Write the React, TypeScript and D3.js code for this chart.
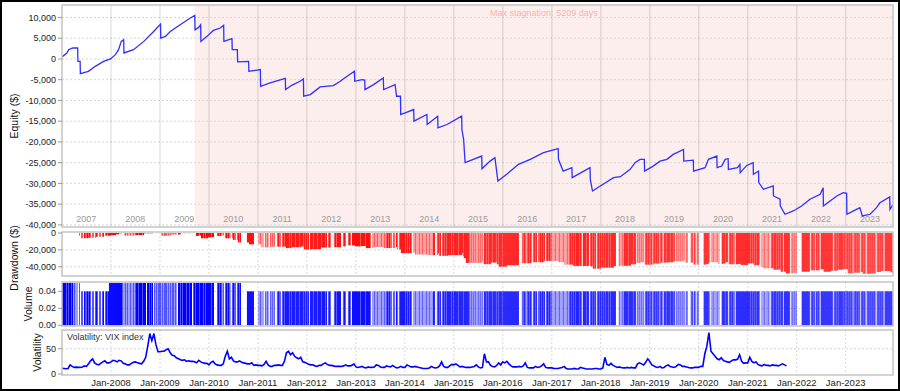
import React from "react";
import * as d3 from "d3";

// equity curve [decimal year, $]
const EQUITY: [number, number][] = [
  [2007.0, 480], [2007.1, 1440], [2007.135, 2240], [2007.22, 2640], [2007.32, 2640],
  [2007.325, -580], [2007.37, -580], [2007.375, -3530], [2007.54, -2980], [2007.68, -1780],
  [2007.85, -580], [2007.99, 0], [2008.09, 1030], [2008.155, 2240], [2008.21, 4230],
  [2008.26, 4640], [2008.265, 1440], [2008.46, 2240], [2008.67, 4230], [2008.87, 6630],
  [2009.01, 8410], [2009.015, 5050], [2009.11, 5440], [2009.21, 6630], [2009.41, 8250],
  [2009.62, 9860], [2009.71, 10480], [2009.715, 7040], [2009.79, 7600], [2009.83, 8250],
  [2009.835, 4230], [2009.96, 5440], [2010.09, 6870], [2010.23, 7450], [2010.3, 8080],
  [2010.305, 4230], [2010.47, 4880], [2010.475, 2240], [2010.58, 2240], [2010.585, -720],
  [2010.81, -580], [2010.815, -2980], [2011.05, -2570], [2011.055, -6590], [2011.25, -5770],
  [2011.56, -4660], [2011.565, -7380], [2011.69, -6350], [2011.86, -5380], [2011.93, -4810],
  [2011.935, -8990], [2012.07, -8580], [2012.27, -6730], [2012.54, -6420], [2012.68, -5380],
  [2012.82, -4180], [2012.97, -2980], [2012.975, -5380], [2013.12, -4980], [2013.18, -5100],
  [2013.185, -7380], [2013.36, -6180], [2013.56, -4570], [2013.565, -7380], [2013.8, -6180],
  [2013.83, -8990], [2013.91, -8990], [2013.915, -13390], [2014.18, -12190], [2014.185, -15000],
  [2014.45, -13390], [2014.455, -15800], [2014.67, -13800], [2014.675, -16590], [2014.86, -15800],
  [2015.16, -13800], [2015.165, -17000], [2015.2, -19400], [2015.23, -25000], [2015.57, -23400],
  [2015.575, -26440], [2015.74, -24620], [2015.84, -23800], [2015.87, -26600], [2015.9, -29400],
  [2016.08, -27800], [2016.32, -25400], [2016.56, -24200], [2016.83, -22600], [2017.13, -21630],
  [2017.135, -24200], [2017.23, -27020], [2017.41, -26200], [2017.415, -28600], [2017.78, -26200],
  [2017.785, -29010], [2017.83, -31830], [2017.99, -30620], [2018.26, -28600], [2018.4, -28370],
  [2018.6, -26610], [2018.7, -25000], [2018.8, -24200], [2018.89, -24200], [2018.895, -27020],
  [2019.07, -25820], [2019.21, -24620], [2019.35, -24200], [2019.48, -23000], [2019.69, -21800],
  [2019.695, -24620], [2019.89, -24380], [2019.895, -27020], [2020.13, -26200], [2020.2, -24200],
  [2020.37, -23400], [2020.375, -26200], [2020.47, -25820], [2020.54, -24200], [2020.6, -24040],
  [2020.605, -26610], [2020.79, -26200], [2020.84, -25400], [2020.845, -27420], [2020.98, -25660],
  [2021.11, -25000], [2021.115, -27810], [2021.22, -27020], [2021.225, -29810], [2021.32, -31420],
  [2021.52, -30620], [2021.525, -33020], [2021.66, -33820], [2021.665, -35430], [2021.76, -37430],
  [2021.93, -36630], [2022.1, -35430], [2022.27, -33820], [2022.48, -32620], [2022.54, -31020],
  [2022.545, -35430], [2022.68, -34230], [2022.82, -33020], [2022.95, -32220], [2023.02, -32380],
  [2023.025, -37430], [2023.16, -36630], [2023.29, -35830], [2023.34, -37830], [2023.5, -37430],
  [2023.63, -35830], [2023.7, -34660], [2023.9, -33240], [2023.905, -36230], [2023.97, -35030],
];

// days in the market, ~weekly slots per year: 0 none, 1 light, 2 medium, 3 dense
const ACTIVITY_FIRST_YEAR = 2007;
const SLOTS_PER_YEAR = 49;
const ACTIVITY: string[] = [
  "3333232332312111020220322323202202320220230232333",
  "333333333332" + "1121211211212" + "33233323330332323" + "0" + "212122",
  "21212221212122121" + "0" + "33232333233233" + "0" + "2323332333232333",
  "33233" + "000" + "2323212" + "0" + "232321" + "0" + "2322" + "0" + "2323" + "000000" + "3333333" + "0000",
  "112111" + "0" + "2121" + "0" + "21212" + "00" + "2322" + "0" + "232" + "3333232333233323332323",
  "23" + "0" + "33323332333233323" + "0" + "232" + "000" + "2323333" + "00" + "232" + "00" + "232" + "0" + "3333",
  "333323333233332" + "0" + "11211211121121" + "232322" + "0" + "22" + "0" + "32" + "0" + "233333",
  "2323232" + "0" + "11211121121112112111" + "33" + "00" + "232302323" + "23333232",
  "333323333233333" + "21212121121212" + "0" + "3323233323332323332",
  "3333333333333333" + "000" + "2" + "232123232" + "0" + "2323" + "0" + "2232323" + "0" + "23232" + "2",
  "11121112111211121" + "2323232333232" + "0" + "333233" + "0" + "232323" + "0" + "2323",
  "2323233232" + "33333" + "000" + "2" + "1121" + "333323333233" + "0" + "2121212" + "0" + "23232",
  "2312323231232" + "0" + "33233323323" + "0" + "212121212" + "0" + "22" + "000" + "23" + "0" + "32" + "0" + "22",
  "00000" + "333332" + "0" + "112111211" + "00" + "333233" + "0" + "232322" + "0" + "333333333333",
  "332323232332" + "0" + "111211121" + "0" + "232332323233" + "0" + "333333" + "0" + "121212",
  "00000" + "33333333" + "0" + "2323" + "0" + "3232" + "0" + "333333333333" + "0" + "232323333232",
  "23232321232323" + "0" + "23232" + "0" + "232323232" + "0" + "2323232" + "0" + "3333333332",
];

// position size from [decimal year, lots]
const VOLUME_LEVELS: [number, number][] = [
  [2007.0, 0.05], [2007.35, 0.04], [2007.95, 0.05], [2010.64, 0.04],
];

// VIX, two readings per month from Jan 2007
const VIX_START = 2007;
const VIX: number[] = [
  11.5, 11, 10.5, 11, 18, 15, 13, 13.5, 13, 13, 14, 16, 15, 20, 26, 30, 22, 19, 18, 21, 24, 26, 22, 22,
  24, 27, 26, 24, 27, 26, 21, 20, 18, 18, 21, 23, 24, 22, 21, 20, 25, 33, 55, 80, 66, 80, 58, 44,
  44, 45, 45, 48, 50, 42, 37, 36, 32, 30, 28, 27, 28, 25, 26, 25, 25, 24, 22, 27, 24, 22, 21, 21,
  18, 23, 25, 20, 18, 17, 17, 20, 35, 45, 30, 33, 26, 24, 24, 26, 23, 22, 21, 20, 20, 22, 17, 18,
  17, 17, 16, 19, 25, 18, 15, 15, 17, 17, 18, 17, 17, 25, 42, 45, 38, 42, 35, 32, 30, 33, 24, 23,
  21, 19, 18, 18, 16, 15, 17, 17, 20, 22, 19, 17, 17, 16, 15, 15, 15, 15, 16, 18, 16, 16, 17, 20,
  14, 13, 14, 15, 13, 12, 14, 13, 13, 14, 18, 17, 14, 13, 13, 16, 15, 14, 17, 14, 12, 13, 15, 13,
  13, 18, 16, 14, 14, 15, 14, 13, 12, 11, 11, 11, 12, 15, 13, 12, 13, 16, 24, 15, 13, 13, 16, 19,
  18, 20, 17, 14, 15, 14, 13, 13, 13, 14, 15, 18, 14, 12, 13, 40, 24, 24, 17, 15, 14, 17, 22, 18,
  24, 22, 25, 20, 16, 14, 14, 14, 15, 14, 16, 22, 13, 12, 12, 12, 15, 13, 14, 16, 20, 13, 12, 12,
  12, 11, 11, 11, 12, 13, 15, 11, 10, 10, 10, 11, 10, 10, 13, 12, 11, 10, 10, 10, 10, 11, 11, 10,
  10, 12, 33, 19, 17, 21, 17, 15, 13, 14, 13, 12, 12, 13, 12, 13, 12, 12, 20, 22, 20, 18, 23, 30,
  25, 18, 16, 14, 13, 15, 12, 13, 16, 18, 15, 14, 13, 15, 19, 18, 15, 15, 14, 13, 12, 12, 13, 13,
  13, 15, 15, 40, 55, 82, 45, 40, 35, 30, 28, 32, 27, 25, 24, 23, 26, 28, 28, 29, 38, 25, 21, 22,
  22, 33, 25, 22, 24, 19, 17, 16, 19, 17, 17, 16, 18, 17, 17, 16, 18, 20, 18, 16,
];

const EQ_TICKS = [10000, 5000, 0, -5000, -10000, -15000, -20000, -25000, -30000, -35000, -40000];
const DD_TICKS = [0, -20000, -40000];
const VOL_TICKS = [0, 0.02, 0.04];
const VIX_TICKS = [0, 50];
const YEARS = d3.range(2007, 2024);
const STAGNATION_DAYS = 5209;

const W = 900;
const H = 391;
const L = 62;
const R = 893;
const EQ = { top: 5, bottom: 227 };
const DD = { top: 232, bottom: 276 };
const VOL = { top: 282, bottom: 326 };
const VX = { top: 330, bottom: 375 };
const FONT = "'Liberation Sans', Arial, sans-serif";

const loc = d3.formatLocale({ decimal: ".", thousands: ",", grouping: [3], currency: ["$", ""], minus: "-" });
const fmtInt = loc.format(",");
const fmtVol = loc.format(".2f");

function yearToDate(t: number) {
  const y = Math.floor(t);
  const a = new Date(y, 0, 1).getTime();
  const b = new Date(y + 1, 0, 1).getTime();
  return new Date(a + (t - y) * (b - a));
}

const OPACITY = [0, 0.38, 0.68, 1];

export default function App() {
  const x = d3.scaleTime().domain([new Date(2007, 0, 1), new Date(2023, 11, 20)]).range([L, R]);
  const yEq = d3.scaleLinear().domain([-40500, 13000]).range([EQ.bottom, EQ.top]);
  const yDd = d3.scaleLinear().domain([-51000, 1200]).range([DD.bottom, DD.top]);
  const yVol = d3.scaleLinear().domain([-0.0008, 0.051]).range([VOL.bottom, VOL.top]);
  const yVix = d3.scaleLinear().domain([-2, 87]).range([VX.bottom, VX.top]);

  const eqTimes = EQUITY.map((d) => d[0]);
  const peaks: number[] = [];
  EQUITY.forEach((d, i) => peaks.push(i === 0 ? d[1] : Math.max(peaks[i - 1], d[1])));
  const peakIdx = d3.maxIndex(EQUITY, (d) => d[1]);
  const stagStart = x(yearToDate(EQUITY[peakIdx][0]));

  const bars: { x0: number; x1: number; dd: number; vol: number; op: number }[] = [];
  ACTIVITY.forEach((s, yi) => {
    const year = ACTIVITY_FIRST_YEAR + yi;
    for (let i = 0; i < s.length; i++) {
      const lvl = +s[i];
      if (!lvl) continue;
      const t = year + i / SLOTS_PER_YEAR;
      const k = Math.max(0, d3.bisectRight(eqTimes, t) - 1);
      const dd = EQUITY[k][1] - peaks[k];
      const vIdx = Math.max(0, d3.bisectRight(VOLUME_LEVELS.map((d) => d[0]), t) - 1);
      bars.push({
        x0: x(yearToDate(t)),
        x1: x(yearToDate(year + (i + 1) / SLOTS_PER_YEAR)),
        dd,
        vol: VOLUME_LEVELS[vIdx][1],
        op: OPACITY[lvl],
      });
    }
  });

  const eqLine = d3
    .line<[number, number]>()
    .x((d) => x(yearToDate(d[0])))
    .y((d) => yEq(d[1]));

  const vixLine = d3
    .line<number>()
    .x((d, i) => x(yearToDate(VIX_START + i / 24)))
    .y((d) => yVix(d));

  const janLines = YEARS.slice(1).map((y) => x(new Date(y, 0, 1)));

  const panelFrame = (p: { top: number; bottom: number }) => (
    <rect x={L} y={p.top} width={R - L} height={p.bottom - p.top} fill="none" stroke="#c4c4c4" strokeWidth={1.5} />
  );

  const yAxis = (ticks: number[], scale: d3.ScaleLinear<number, number>, fmt: (n: number) => string) => (
    <g>
      {ticks.map((t) => (
        <g key={t}>
          <line x1={L - 4} x2={L} y1={scale(t)} y2={scale(t)} stroke="#999" />
          <text x={L - 6} y={scale(t)} dy="0.35em" textAnchor="end" fontSize={9} fill="#222">
            {fmt(t)}
          </text>
        </g>
      ))}
    </g>
  );

  const hGrid = (ticks: number[], scale: d3.ScaleLinear<number, number>) =>
    ticks.map((t) => (
      <line key={"h" + t} x1={L} x2={R} y1={scale(t)} y2={scale(t)} stroke="#d6d6d6" strokeDasharray="2,2" />
    ));

  const vGrid = (p: { top: number; bottom: number }) =>
    janLines.map((xx, i) => (
      <line key={"v" + i} x1={xx} x2={xx} y1={p.top} y2={p.bottom} stroke="#d6d6d6" strokeDasharray="2,2" />
    ));

  const title = (txt: string, cx: number, cy: number) => (
    <text transform={`translate(${cx},${cy}) rotate(-90)`} textAnchor="middle" dy="0.35em" fontSize={10.5} fill="#111">
      {txt}
    </text>
  );

  return (
    <svg width={W} height={H} style={{ position: "absolute", left: 0, top: 0, background: "#fff" }} fontFamily={FONT}>
      <defs>
        <clipPath id="plot">
          <rect x={L} y={0} width={R - L} height={H} />
        </clipPath>
      </defs>
      <rect x={1} y={1} width={W - 2} height={H - 2} fill="#fff" stroke="#000" strokeWidth={2} />

      {/* equity panel */}
      <rect x={stagStart} y={EQ.top} width={R - stagStart} height={EQ.bottom - EQ.top} fill="#fdeeee" />
      {hGrid(EQ_TICKS, yEq)}
      {janLines.map((xx, i) => (
        <line key={"y" + i} x1={xx} x2={xx} y1={EQ.top} y2={EQ.bottom} stroke="rgba(0,0,0,0.1)" strokeWidth={1.5} />
      ))}
      {YEARS.map((y) => (
        <text key={y} x={x(new Date(y, 6, 1))} y={EQ.bottom - 5} textAnchor="middle" fontSize={9} fill="#9a9a9a">
          {y}
        </text>
      ))}
      <text x={(stagStart + R) / 2} y={16} textAnchor="middle" fontSize={9} fill="#f4b3b3">
        {`Max stagnation: ${STAGNATION_DAYS} days`}
      </text>
      <path d={eqLine(EQUITY) || ""} fill="none" stroke="#2f2fff" strokeWidth={1.3} clipPath="url(#plot)" />
      {panelFrame(EQ)}
      {yAxis(EQ_TICKS, yEq, fmtInt)}
      {title("Equity ($)", 14, (EQ.top + EQ.bottom) / 2)}

      {/* drawdown panel */}
      {hGrid(DD_TICKS.slice(1), yDd)}
      {vGrid(DD)}
      <g clipPath="url(#plot)">
        {bars
          .filter((b) => b.dd < -50)
          .map((b, i) => (
            <rect key={i} x={b.x0} y={yDd(0)} width={Math.max(1, b.x1 - b.x0)} height={yDd(b.dd) - yDd(0)} fill="#ff0000" fillOpacity={b.op} />
          ))}
      </g>
      {panelFrame(DD)}
      {yAxis(DD_TICKS, yDd, fmtInt)}
      {title("Drawdown ($)", 14, (DD.top + DD.bottom) / 2 + 4)}

      {/* volume panel */}
      {hGrid(VOL_TICKS.slice(1), yVol)}
      {vGrid(VOL)}
      <g clipPath="url(#plot)">
        {bars.map((b, i) => (
          <rect key={i} x={b.x0} y={yVol(b.vol)} width={Math.max(1, b.x1 - b.x0)} height={yVol(0) - yVol(b.vol)} fill="#0000ff" fillOpacity={b.op} />
        ))}
      </g>
      {panelFrame(VOL)}
      {yAxis(VOL_TICKS, yVol, fmtVol)}
      {title("Volume", 28, (VOL.top + VOL.bottom) / 2)}

      {/* volatility panel */}
      {hGrid(VIX_TICKS.slice(1), yVix)}
      {vGrid(VX)}
      <path d={vixLine(VIX) || ""} fill="none" stroke="#0000ff" strokeWidth={1.6} clipPath="url(#plot)" />
      <text x={L + 5} y={VX.top + 10} fontSize={9} fill="#333">
        Volatility: VIX index
      </text>
      {panelFrame(VX)}
      {yAxis(VIX_TICKS, yVix, fmtInt)}
      {title("Volatility", 37, (VX.top + VX.bottom) / 2)}

      {/* time axis */}
      {YEARS.slice(1).map((y) => (
        <text key={"j" + y} x={x(new Date(y, 0, 1))} y={386} textAnchor="middle" fontSize={9.5} fill="#222">
          {`Jan-${y}`}
        </text>
      ))}
    </svg>
  );
}
